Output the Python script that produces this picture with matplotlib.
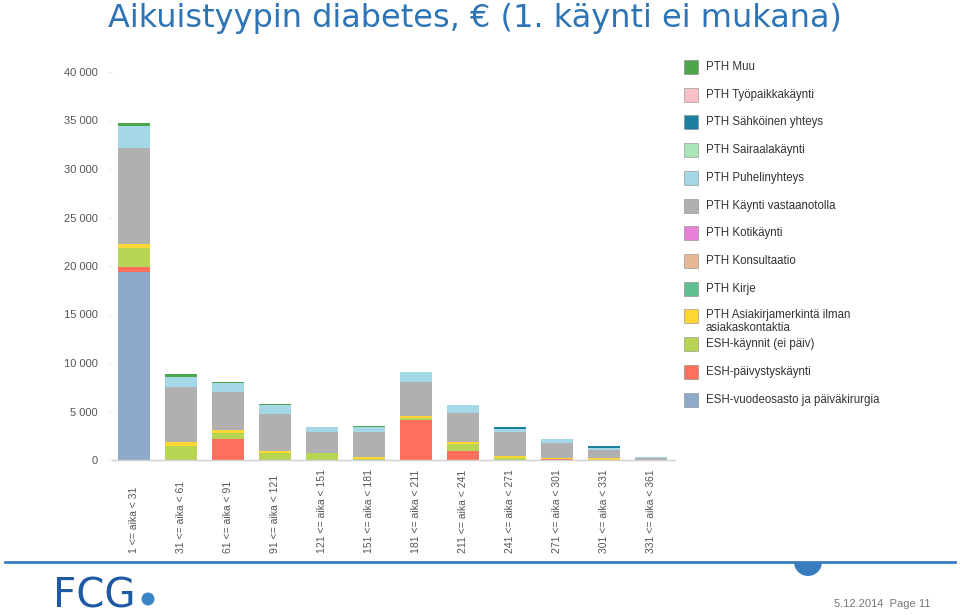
import matplotlib
matplotlib.use("Agg")
import matplotlib.pyplot as plt
from matplotlib.patches import Rectangle, Wedge, Circle
from matplotlib.lines import Line2D
from matplotlib.transforms import blended_transform_factory
from matplotlib.ticker import FuncFormatter

categories = ["1 <= aika < 31", "31 <= aika < 61", "61 <= aika < 91", "91 <= aika < 121",
              "121 <= aika < 151", "151 <= aika < 181", "181 <= aika < 211", "211 <= aika < 241",
              "241 <= aika < 271", "271 <= aika < 301", "301 <= aika < 331", "331 <= aika < 361"]

# stacking order bottom -> top
esh_vuodeosasto = [19400, 0, 0, 0, 0, 0, 0, 0, 0, 0, 0, 0]
esh_paivystys = [520, 0, 2130, 0, 0, 0, 4120, 930, 0, 150, 0, 0]
esh_kaynnit = [1960, 1470, 620, 690, 700, 60, 200, 720, 200, 0, 50, 0]
pth_asiakirja = [380, 410, 340, 200, 50, 300, 210, 240, 240, 50, 150, 0]
pth_kirje = [0, 0, 0, 0, 0, 0, 0, 0, 0, 0, 0, 0]
pth_konsultaatio = [0, 0, 0, 0, 0, 0, 0, 0, 0, 0, 0, 0]
pth_kotikaynti = [0, 0, 0, 0, 0, 0, 0, 0, 0, 0, 0, 0]
pth_vastaanotto = [9930, 5600, 3890, 3810, 2100, 2550, 3470, 2990, 2440, 1600, 800, 250]
pth_puhelin = [2240, 1060, 930, 960, 520, 470, 1030, 790, 340, 350, 250, 50]
pth_sairaala = [0, 0, 0, 0, 0, 0, 0, 0, 0, 0, 0, 0]
pth_sahkoinen = [0, 0, 0, 0, 0, 0, 0, 0, 200, 0, 170, 0]
pth_tyopaikka = [0, 0, 0, 0, 0, 0, 0, 0, 0, 0, 0, 0]
pth_muu = [280, 280, 100, 140, 0, 170, 0, 0, 0, 0, 0, 0]

series = [
    ("ESH-vuodeosasto ja päiväkirurgia", esh_vuodeosasto, "#8eaacb"),
    ("ESH-päivystyskäynti", esh_paivystys, "#ff6f5e"),
    ("ESH-käynnit (ei päiv)", esh_kaynnit, "#b8d454"),
    ("PTH Asiakirjamerkintä ilman\nasiakaskontaktia", pth_asiakirja, "#ffd633"),
    ("PTH Kirje", pth_kirje, "#5fbf8f"),
    ("PTH Konsultaatio", pth_konsultaatio, "#e8b896"),
    ("PTH Kotikäynti", pth_kotikaynti, "#e680d6"),
    ("PTH Käynti vastaanotolla", pth_vastaanotto, "#b0b0b0"),
    ("PTH Puhelinyhteys", pth_puhelin, "#a5d8e6"),
    ("PTH Sairaalakäynti", pth_sairaala, "#a8e6b8"),
    ("PTH Sähköinen yhteys", pth_sahkoinen, "#1d7fa0"),
    ("PTH Työpaikkakäynti", pth_tyopaikka, "#f9c0c8"),
    ("PTH Muu", pth_muu, "#4ea64a"),
]

yticks = [0, 5000, 10000, 15000, 20000, 25000, 30000, 35000, 40000]

SANS = ["Liberation Sans", "DejaVu Sans"]

fig = plt.figure(figsize=(9.6, 6.15), dpi=100)
fig.patch.set_facecolor("white")

ax = fig.add_axes([112/960, 1-460/615, (675-112)/960, (460-72)/615])
x = list(range(len(categories)))
bottom = [0]*len(categories)
for name, vals, col in series:
    ax.bar(x, vals, width=0.68, bottom=bottom, color=col, linewidth=0)
    bottom = [b+v for b, v in zip(bottom, vals)]

ax.set_xlim(-0.47, 11.5)
ax.set_ylim(0, 40000)
ax.set_yticks(yticks)
ax.yaxis.set_major_formatter(FuncFormatter(lambda v, p: f"{int(v):,}".replace(",", " ")))
for s in ["top", "right", "left"]:
    ax.spines[s].set_visible(False)
ax.spines["bottom"].set_color("#d0d0d0")
ax.spines["bottom"].set_linewidth(1)
ax.tick_params(axis="y", length=3, color="#eeeeee", pad=7, labelsize=8, labelcolor="#555555")
for lab in ax.get_yticklabels():
    lab.set_family(SANS)
ax.set_xticks([])

trans = blended_transform_factory(ax.transData, fig.transFigure)
for i, c in enumerate(categories):
    ax.text(i, 1-553/615, c, rotation=90, ha="center", va="bottom", fontsize=7.5,
            color="#555555", transform=trans, family=SANS)

# legend (manual)
leg_y = [67, 95, 122, 150, 178, 206, 233, 261, 289, 316, 344, 372, 400]
for (name, vals, col), yy in zip(reversed(series), leg_y):
    fig.patches.append(Rectangle((684/960, 1-(yy+7)/615), 14/960, 14/615,
                                 facecolor=col, edgecolor="#888888", linewidth=0.4,
                                 transform=fig.transFigure))
    if "\n" in name:
        fig.text(706/960, 1-(316-7)/615, name, fontsize=8.3, color="#333333", va="top",
                 ha="left", linespacing=1.15, family=SANS)
    else:
        fig.text(706/960, 1-yy/615, name, fontsize=8.3, color="#333333", va="center",
                 ha="left", family=SANS)

# title
fig.text(108/960, 1-27/615, "Aikuistyypin diabetes, € (1. käynti ei mukana)", fontsize=23,
         color="#2e75b6", ha="left", va="baseline")

# footer
fig.add_artist(Line2D([5/960, 955/960], [1-562/615, 1-562/615], color="#3a7cc0", linewidth=2,
                      transform=fig.transFigure))
fig.patches.append(Wedge((8.08, (615-562)/100), 0.14, 180, 360, facecolor="#3a7cc0",
                         edgecolor="none", transform=fig.dpi_scale_trans))
fig.text(53/960, 1-607/615, "FCG", fontsize=29, color="#1d5aa3", ha="left", va="baseline",
         family=["Liberation Sans Narrow", "DejaVu Sans"], weight="medium")
fig.patches.append(Circle((1.48, (615-599)/100), 0.065, facecolor="#3a86c8", edgecolor="none",
                          transform=fig.dpi_scale_trans))
fig.text(930/960, 1-604/615, "5.12.2014  Page 11", fontsize=8, color="#777777", ha="right",
         va="center", family=SANS)

fig.savefig("out.png", dpi=100)
